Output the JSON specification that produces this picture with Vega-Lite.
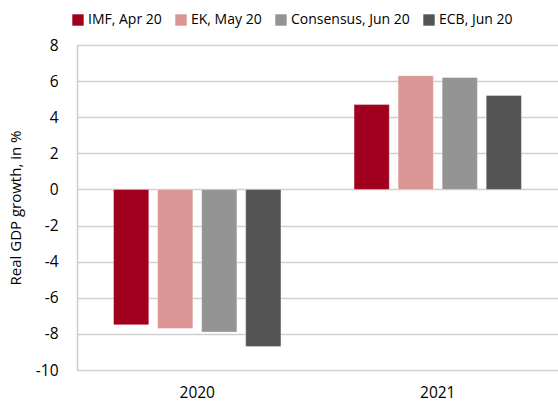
{
  "$schema": "https://vega.github.io/schema/vega-lite/v6.json",
  "width": 481,
  "height": 325,
  "autosize": {"type": "none"},
  "padding": {"left": 77, "top": 45, "right": 0, "bottom": 39},
  "background": "white",
  "config": {
    "font": "Open Sans",
    "view": {"stroke": null},
    "axis": {"labelFont": "Open Sans", "titleFont": "Open Sans", "labelColor": "#000", "titleColor": "#000"}
  },
  "data": {
    "values": [
      {"year": "2020", "source": "IMF, Apr 20", "value": -7.5},
      {"year": "2020", "source": "EK, May 20", "value": -7.7},
      {"year": "2020", "source": "Consensus, Jun 20", "value": -7.9},
      {"year": "2020", "source": "ECB, Jun 20", "value": -8.7},
      {"year": "2021", "source": "IMF, Apr 20", "value": 4.7},
      {"year": "2021", "source": "EK, May 20", "value": 6.3},
      {"year": "2021", "source": "Consensus, Jun 20", "value": 6.2},
      {"year": "2021", "source": "ECB, Jun 20", "value": 5.2}
    ]
  },
  "mark": {"type": "bar", "strokeWidth": 1, "strokeOpacity": 0.35, "stroke": "#ffffff"},
  "encoding": {
    "x": {
      "field": "year", "type": "nominal",
      "scale": {"paddingInner": 0, "paddingOuter": 0},
      "axis": {"title": null, "labelAngle": 0, "labelFontSize": 15.5, "ticks": false, "domain": false, "labelPadding": 15, "grid": false}
    },
    "xOffset": {
      "field": "source", "type": "nominal",
      "sort": ["IMF, Apr 20", "EK, May 20", "Consensus, Jun 20", "ECB, Jun 20"],
      "scale": {"paddingInner": 0.2, "paddingOuter": 0.83}
    },
    "y": {
      "field": "value", "type": "quantitative",
      "scale": {"domain": [-10, 8], "nice": false, "zero": false},
      "axis": {
        "title": "Real GDP growth, in %", "titleFontSize": 15, "titleFontWeight": "normal", "titlePadding": 12,
        "values": [-10, -8, -6, -4, -2, 0, 2, 4, 6, 8],
        "labelExpr": "'' + datum.value",
        "labelFontSize": 15.5, "ticks": false, "labelPadding": 19,
        "domain": true, "domainColor": "#cccccc", "domainWidth": 1.5,
        "grid": true, "gridColor": "#d0d0d0", "gridWidth": 1.5
      }
    },
    "color": {
      "field": "source", "type": "nominal",
      "sort": ["IMF, Apr 20", "EK, May 20", "Consensus, Jun 20", "ECB, Jun 20"],
      "scale": {
        "domain": ["IMF, Apr 20", "EK, May 20", "Consensus, Jun 20", "ECB, Jun 20"],
        "range": ["#a0001e", "#d99694", "#949494", "#545454"]
      },
      "legend": {
        "title": null, "orient": "none", "direction": "horizontal",
        "legendX": -6, "legendY": -32,
        "symbolType": "square", "symbolSize": 130, "symbolStrokeWidth": 0,
        "labelFontSize": 14, "labelFont": "Open Sans", "columnPadding": 12, "labelOffset": 3
      }
    }
  }
}
